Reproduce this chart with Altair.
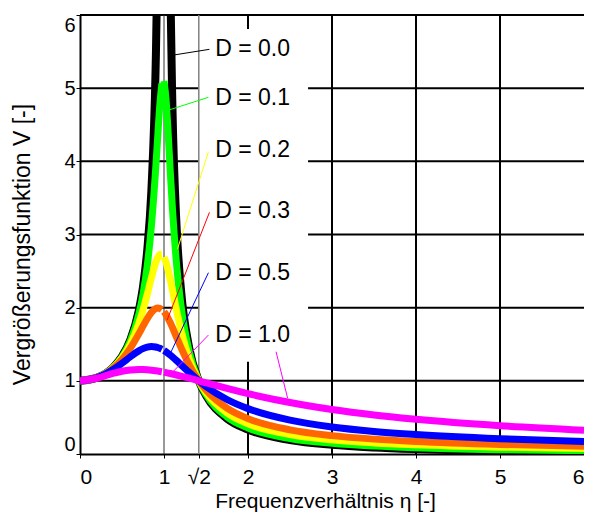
import altair as alt
import pandas as pd

# frequency ratio eta
eta = [0, 0.2, 0.4, 0.5, 0.6, 0.7, 0.75, 0.8, 0.85, 0.9, 0.925, 0.95, 0.975, 1.0,
       1.025, 1.05, 1.075, 1.1, 1.15, 1.2, 1.3, 1.4142, 1.5, 1.75, 2.0, 2.5, 3.0,
       3.5, 4.0, 5.0, 6.0]

# magnification values
v_d00 = [1.0, 1.0417, 1.1905, 1.3333, 1.5625, 1.9608, 2.2857, 2.7778, 3.6036, 5.2632,
         6.926, 10.256, 20.25, None, 19.75, 9.756, 6.426, 4.7619, 3.1008, 2.2727,
         1.4493, 1.0, 0.8, 0.4848, 0.3333, 0.1905, 0.125, 0.0889, 0.0667, 0.0417, 0.0286]
v_d01 = [1.0, 1.0416, 1.1889, 1.3283, 1.5467, 1.9092, 2.1864, 2.5707, 3.1169, 3.8822,
         4.3337, 4.7664, 5.0650, 5.0990, 4.8342, 4.3727, 3.8538, 3.3666, 2.5904, 2.0519,
         1.4013, 1.0, 0.8122, 0.5064, 0.3558, 0.2120, 0.1454, 0.1083, 0.0853, 0.0589, 0.0447]
v_d02 = [1.0, 1.0414, 1.1844, 1.3138, 1.5045, 1.7849, 1.9681, 2.1798, 2.4067, 2.6110,
         2.6846, 2.7268, 2.7304, 2.6926, 2.6162, 2.5088, 2.3804, 2.2409, 1.9593, 1.7035,
         1.3045, 1.0, 0.8411, 0.5604, 0.4125, 0.2646, 0.1931, 0.1517, 0.1251, 0.0928, 0.0741]
v_d03 = [1.0, 1.0410, 1.1772, 1.2925, 1.4474, 1.6417, 1.7472, 1.8487, 1.9334, 1.9853,
         1.9943, 1.9905, 1.9734, 1.9437, 1.9025, 1.8517, 1.7934, 1.7299, 1.5952, 1.4603,
         1.2178, 1.0, 0.8734, 0.6265, 0.4834, 0.3302, 0.2511, 0.2032, 0.1712, 0.1307, 0.1062]
v_d05 = [1.0, 1.0400, 1.1576, 1.2403, 1.3293, 1.4094, 1.4396, 1.4598, 1.4678, 1.4626,
         1.4551, 1.4443, 1.4306, 1.4142, 1.3954, 1.3744, 1.3517, 1.3275, 1.2760, 1.2221,
         1.1144, 1.0, 0.9233, 0.7452, 0.6202, 0.4631, 0.3701, 0.3090, 0.2656, 0.2080, 0.1713]
v_d10 = [1.0, 1.0356, 1.1040, 1.1314, 1.1486, 1.1547, 1.1538, 1.1505, 1.1450, 1.1376,
         1.1333, 1.1286, 1.1235, 1.1180, 1.1123, 1.1063, 1.1000, 1.0935, 1.0799, 1.0656,
         1.0356, 1.0, 0.9730, 0.8960, 0.8246, 0.7033, 0.6083, 0.5337, 0.4743, 0.3865, 0.3255]

series_names = ["D = 0.0", "D = 0.1", "D = 0.2", "D = 0.3", "D = 0.5", "D = 1.0"]
series_values = [v_d00, v_d01, v_d02, v_d03, v_d05, v_d10]
curve_colors = ["#000000", "#00ff00", "#ffff00", "#ff6600", "#0000ff", "#ff00ff"]
leader_colors = ["#000000", "#00ff00", "#ffff00", "#ff0000", "#0000ff", "#ff00ff"]
curve_widths = [8, 7, 7, 7, 7, 7]

# label anchors and leader lines (data coordinates)
label_x = [1.61, 1.61, 1.61, 1.61, 1.61, 1.61]
label_y = [5.53, 4.87, 4.16, 3.32, 2.47, 1.63]
lead_x1 = [1.541, 1.529, 1.529, 1.541, 1.529, 1.529]
lead_y1 = [5.531, 4.875, 4.131, 3.303, 2.478, 1.626]
lead_x2 = [1.116, 1.057, 1.160, 1.037, 1.076, 1.108]
lead_y2 = [5.453, 4.701, 2.800, 1.831, 1.376, 1.125]
extra_lead = [2.334, 1.398, 2.472, 0.761]   # second leader of D = 1.0

# axis tick values
x_ticks = [0, 1, 1.4142, 2, 3, 4, 5, 6]
y_ticks = [0, 1, 2, 3, 4, 5, 6]

# grid segments
hgrid_y = [6, 5, 4, 3, 2, 5, 4, 3, 2, 1]
hgrid_x1 = [0, 0, 0, 0, 0, 2.715, 2.715, 2.715, 2.715, 0]
hgrid_x2 = [6, 1.4142, 1.4142, 1.4142, 1.4142, 6, 6, 6, 6, 6]
vgrid_x = [3, 4, 5, 2, 2]
vgrid_y1 = [0, 0, 0, 0, 5.81]
vgrid_y2 = [6, 6, 6, 1.26, 6]

FONT = "Liberation Sans"
xs = alt.Scale(domain=[0, 6], nice=False, zero=False)
ys = alt.Scale(domain=[0, 6], nice=False, zero=False)

axis_x = alt.Axis(
    values=x_ticks,
    labelExpr="datum.value > 1.4 && datum.value < 1.5 ? '√2' : datum.label",
    grid=False, domain=True, domainColor="black", domainWidth=2,
    ticks=True, tickColor="black", tickSize=4, tickWidth=1,
    labelFont=FONT, labelFontSize=21, labelColor="black", labelFlush=True,
    labelPadding=8, labelOverlap=False,
    title="Frequenzverhältnis η [-]", titleFont=FONT, titleFontSize=21,
    titleFontWeight="normal", titleColor="black",
    titleX=245, titleY=53, titleBaseline="alphabetic", titleAlign="center",
)
axis_y = alt.Axis(
    values=y_ticks, format="d",
    grid=False, domain=True, domainColor="black", domainWidth=2,
    ticks=True, tickColor="black", tickSize=4, tickWidth=1,
    labelFont=FONT, labelFontSize=20, labelColor="black", labelFlush=True,
    labelPadding=1, labelOverlap=False,
    title="Vergrößerungsfunktion V [-]", titleFont=FONT, titleFontSize=23,
    titleFontWeight="normal", titleColor="black",
    titleAngle=270, titleX=-58, titleY=229, titleBaseline="middle", titleAlign="center",
)


def X(field):
    return alt.X(field, scale=xs, axis=axis_x)


def Y(field):
    return alt.Y(field, scale=ys, axis=axis_y)


hgrid_df = pd.DataFrame({"x1": hgrid_x1, "x2": hgrid_x2, "y": hgrid_y})
vgrid_df = pd.DataFrame({"x": vgrid_x, "y1": vgrid_y1, "y2": vgrid_y2})

layers = []
layers.append(
    alt.Chart(hgrid_df).mark_rule(color="black", strokeWidth=2).encode(
        x=X("x1:Q"), x2="x2:Q", y=Y("y:Q"),
    )
)
layers.append(
    alt.Chart(vgrid_df).mark_rule(color="black", strokeWidth=2).encode(
        x=X("x:Q"), y=Y("y1:Q"), y2="y2:Q",
    )
)
thin_df = pd.DataFrame({"x": [1.0], "y1": [0], "y2": [6]})
layers.append(
    alt.Chart(thin_df).mark_rule(color="#333333", strokeWidth=1).encode(
        x=X("x:Q"), y=Y("y1:Q"), y2="y2:Q",
    )
)
sqrt_df = pd.DataFrame({"x": [1.4142], "y1": [0], "y2": [6]})
layers.append(
    alt.Chart(sqrt_df).mark_rule(color="#808080", strokeWidth=1.5).encode(
        x=X("x:Q"), y=Y("y1:Q"), y2="y2:Q",
    )
)

# curves, drawn from lowest to highest damping
for name, vals, col, w in zip(series_names, series_values, curve_colors, curve_widths):
    assert len(vals) == len(eta)
    rows = [
        {"eta": e, "V": v, "seg": "a" if e < 1 else "b"}
        for e, v in zip(eta, vals) if v is not None
    ]
    df = pd.DataFrame(rows)
    layers.append(
        alt.Chart(df).mark_line(
            color=col, strokeWidth=w, clip=True, interpolate="monotone"
        ).encode(
            x=X("eta:Q"), y=Y("V:Q"), detail="seg:N",
        )
    )

# leader lines
for i, col in enumerate(leader_colors):
    ldf = pd.DataFrame({"x1": [lead_x1[i]], "y1": [lead_y1[i]],
                        "x2": [lead_x2[i]], "y2": [lead_y2[i]]})
    layers.append(
        alt.Chart(ldf).mark_rule(color=col, strokeWidth=1).encode(
            x=X("x1:Q"), y=Y("y1:Q"), x2="x2:Q", y2="y2:Q",
        )
    )
edf = pd.DataFrame({"x1": [extra_lead[0]], "y1": [extra_lead[1]],
                    "x2": [extra_lead[2]], "y2": [extra_lead[3]]})
layers.append(
    alt.Chart(edf).mark_rule(color=leader_colors[5], strokeWidth=1).encode(
        x=X("x1:Q"), y=Y("y1:Q"), x2="x2:Q", y2="y2:Q",
    )
)

# series labels
tdf = pd.DataFrame({"x": label_x, "y": label_y, "t": series_names})
layers.append(
    alt.Chart(tdf).mark_text(
        align="left", baseline="middle", font=FONT, fontSize=23, color="black"
    ).encode(
        x=X("x:Q"), y=Y("y:Q"), text="t:N",
    )
)

chart = alt.layer(*layers).properties(
    width=504, height=439,
    autosize=alt.AutoSizeParams(type="none"),
    padding={"left": 72, "top": 7, "right": 0, "bottom": 58},
    background="white",
).configure_view(stroke=None)

chart.save("out.html", embed_options={"renderer": "svg", "actions": False})
